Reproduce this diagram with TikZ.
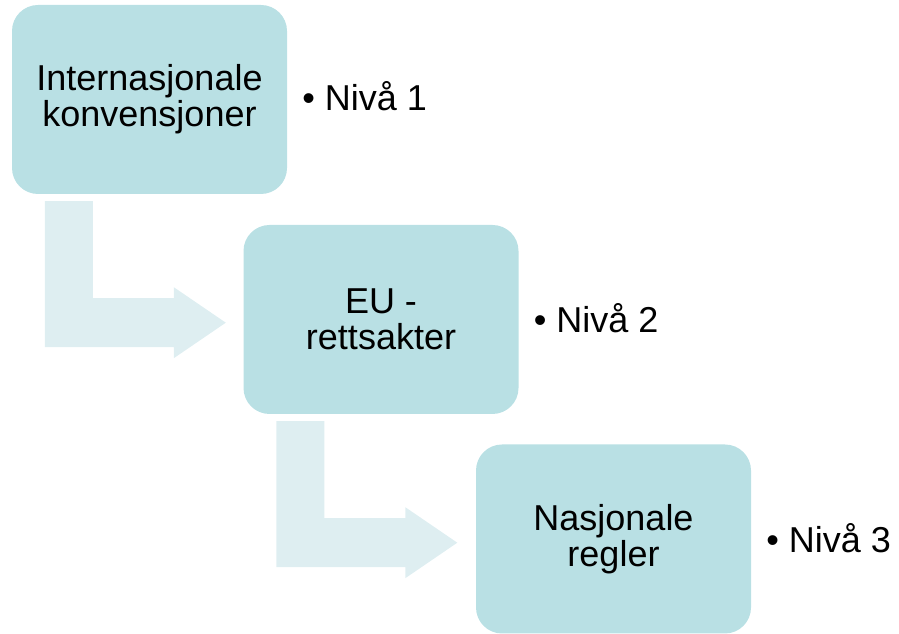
\documentclass[tikz,border=0pt]{standalone}
\usepackage{fontspec}
\setmainfont{Liberation Sans}
\usepackage{tikz}
\usetikzlibrary{calc,positioning}
\definecolor{boxteal}{RGB}{185,224,228}
\definecolor{arrowteal}{RGB}{222,238,241}
\tikzset{
    %Define style for boxes
    levelbox/.style={
           rectangle,
           rounded corners=26pt,
           fill=boxteal,
           minimum width=275pt,
           minimum height=189pt,
           inner sep=0pt,
           align=center,
           font=\fontsize{36}{36}\selectfont},
    %Define style for the level labels
    levellabel/.style={
           anchor=base west,
           inner sep=0pt,
           font=\fontsize{36}{36}\selectfont},
    % Define style for bent arrows
    bentpil/.style={
           fill=arrowteal}
}
% bent arrow from below one box to the left side of the next
\newcommand{\bentarrow}[1]{%
  \fill[bentpil] ($(#1.south west)+(33,-7)$) -- ++(48,0) -- ++(0,-97)
    -- ++(81,0) -- ++(0,11) -- ++(52,-35.5) -- ++(-52,-35.5)
    -- ++(0,11) -- ++(-129,0) -- cycle;}
\begin{document}
\begin{tikzpicture}[x=1pt,y=1pt]
\useasboundingbox (0,0) rectangle (899,634);
\node[levelbox] (b1) at (149.5,534.5) {Internasjonale\\konvensjoner};
\node[levelbox] (b2) at ($(b1)+(231.5,-220)$) {EU -\\rettsakter};
\node[levelbox] (b3) at ($(b2)+(232.5,-219.5)$) {Nasjonale\\regler};
\bentarrow{b1}
\bentarrow{b2}
\node[levellabel] (n1) at ($(b1.east)+(15,-11.5)$) {• Nivå 1};
\node[levellabel] (n2) at ($(b2.east)+(15,-13.5)$) {• Nivå 2};
\node[levellabel] (n3) at ($(b3.east)+(15,-13.5)$) {• Nivå 3};
\end{tikzpicture}
\end{document}
